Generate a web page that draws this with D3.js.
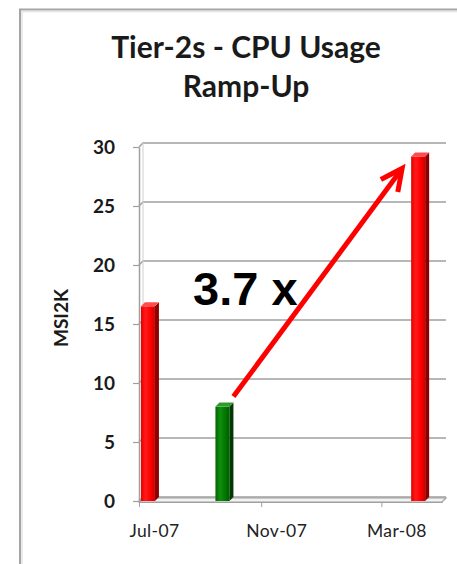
<!DOCTYPE html>
<html><head><meta charset="utf-8">
<script src="https://cdn.jsdelivr.net/npm/d3@7"></script>
<style>html,body{margin:0;padding:0;background:#fff;}svg{display:block;}</style>
</head><body>
<svg id="chart" width="457" height="564"></svg>
<script>
// ---- data ----
const titleLines = ["Tier-2s - CPU Usage", "Ramp-Up"];
const yLabel = "MSI2K";
const barDates = ["2007-07-12", "2007-09-25", "2008-04-09"];
const barValues = [16.5, 8.0, 29.2];
const barColors = ["red", "green", "red"];
const yTicks = [0, 5, 10, 15, 20, 25, 30];
const xTickDates = ["2007-07-01", "2007-11-01", "2008-03-01"];
const xTickLabels = ["Jul-07", "Nov-07", "Mar-08"];
const xDomain = ["2007-07-01", "2008-05-01"];
const annotation = "3.7 x";

const parse = d3.utcParse("%Y-%m-%d");
const svg = d3.select("#chart");
const W = 457, H = 564;
const depth = 4;

svg.append("rect").attr("width", W).attr("height", H).attr("fill", "#fff");
// frame
svg.append("path").attr("d", `M20,${H} L20,9.5 L${W},9.5`).attr("fill", "none")
  .attr("stroke", "#a4a4a4").attr("stroke-width", 2);
svg.append("path").attr("d", `M22,${H} L22,11.5 L${W},11.5`).attr("fill", "none")
  .attr("stroke", "#e4e4e4").attr("stroke-width", 1.5);

// title
const title = svg.append("text").attr("text-anchor", "middle")
  .attr("font-family", "Lato, 'Open Sans', sans-serif").attr("font-weight", "bold")
  .attr("font-size", 30).attr("fill", "#1a1a1a");
titleLines.forEach((t, i) => {
  title.append("tspan").attr("x", 246).attr("y", 58 + i * 39).text(t);
});

// scales
const x = d3.scaleUtc().domain(xDomain.map(parse)).range([139, 442]);
const y = d3.scaleLinear().domain([0, 30]).range([501, 147]);

// back wall gridlines
const grid = svg.append("g");
yTicks.forEach(v => {
  grid.append("path")
    .attr("d", `M${x.range()[0]},${y(v)} L${x.range()[0] + depth},${y(v) - depth} L${x.range()[1] + depth},${y(v) - depth}`)
    .attr("fill", "none").attr("stroke", "#a0a0a0").attr("stroke-width", 1.5);
});
grid.append("line").attr("x1", x.range()[0] + depth).attr("x2", x.range()[0] + depth)
  .attr("y1", y(30) - depth).attr("y2", y(0) - depth)
  .attr("stroke", "#cfcfcf").attr("stroke-width", 1);

// floor
svg.append("path")
  .attr("d", `M${x.range()[0]},${y(0) + 1} L${x.range()[1]},${y(0) + 1} L${x.range()[1] + depth},${y(0) + 1 - depth} L${x.range()[0] + depth},${y(0) + 1 - depth} Z`)
  .attr("fill", "#f2f2f2").attr("stroke", "#a0a0a0").attr("stroke-width", 1.2);

// y axis
const yAxis = svg.append("g").attr("transform", `translate(${x.range()[0]},0)`)
  .call(d3.axisLeft(y).tickValues(yTicks).tickSize(6).tickPadding(18).tickSizeOuter(0));
yAxis.select(".domain").attr("stroke", "#a0a0a0").attr("stroke-width", 1.5);
yAxis.selectAll(".tick line").attr("stroke", "#a0a0a0").attr("stroke-width", 1.2);
yAxis.selectAll(".tick text").attr("font-family", "Lato, sans-serif").attr("font-weight", "bold")
  .attr("font-size", 19).attr("fill", "#1a1a1a");

// x axis
const xAxis = svg.append("g").attr("transform", `translate(0,${y(0) + 1})`)
  .call(d3.axisBottom(x).tickValues(xTickDates.map(parse))
    .tickFormat((d, i) => xTickLabels[i]).tickSize(5).tickPadding(18).tickSizeOuter(0));
xAxis.select(".domain").attr("stroke", "#a0a0a0").attr("stroke-width", 1.2);
xAxis.selectAll(".tick line").attr("stroke", "#a0a0a0");
xAxis.selectAll(".tick text").attr("font-family", "Lato, sans-serif").attr("font-size", 17.5)
  .attr("fill", "#222").attr("dx", 15).attr("letter-spacing", 0.4);

// y label
svg.append("text").attr("transform", `translate(68,318) rotate(-90)`)
  .attr("text-anchor", "middle").attr("font-family", "Lato, sans-serif").attr("font-weight", "bold")
  .attr("font-size", 19).attr("fill", "#1a1a1a").text(yLabel);

// gradients
const defs = svg.append("defs");
const shades = {
  red: {front: ["#e60000", "#ff1a1a", "#ff0000", "#d00000"], side: "#8e0000", top: "#ff4d4d"},
  green: {front: ["#006400", "#118d11", "#007a00", "#005c00"], side: "#003a00", top: "#2e9a2e"}
};
Object.entries(shades).forEach(([k, s]) => {
  const g = defs.append("linearGradient").attr("id", "g-" + k).attr("x1", 0).attr("x2", 1).attr("y1", 0).attr("y2", 0);
  s.front.forEach((c, i) => g.append("stop").attr("offset", i / (s.front.length - 1)).attr("stop-color", c));
});

// bars
const bars = barDates.map((d, i) => ({date: parse(d), value: barValues[i], color: barColors[i]}));
const fw = 14;
const bg = svg.append("g");
bars.forEach(b => {
  const x0 = x(b.date) - 9;
  const yt = y(b.value), yb = y(0);
  const s = shades[b.color];
  bg.append("rect").attr("x", x0).attr("y", yt).attr("width", fw).attr("height", yb - yt)
    .attr("fill", `url(#g-${b.color})`);
  bg.append("path")
    .attr("d", `M${x0 + fw},${yt} L${x0 + fw + depth},${yt - depth} L${x0 + fw + depth},${yb - depth} L${x0 + fw},${yb} Z`)
    .attr("fill", s.side);
  bg.append("path")
    .attr("d", `M${x0},${yt} L${x0 + depth},${yt - depth} L${x0 + fw + depth},${yt - depth} L${x0 + fw},${yt} Z`)
    .attr("fill", s.top);
});

// annotation arrow (from green bar top to last bar top)
const sx = x(bars[1].date) + 9, sy = y(bars[1].value) - 10;
const tx = x(bars[2].date) - 18, ty = y(bars[2].value) + 12;
const ang = Math.atan2(sy - ty, sx - tx);
const wl = 24, wa = 26 * Math.PI / 180;
const w1 = [tx + wl * Math.cos(ang + wa), ty + wl * Math.sin(ang + wa)];
const w2 = [tx + wl * Math.cos(ang - wa), ty + wl * Math.sin(ang - wa)];
svg.append("line").attr("x1", sx).attr("y1", sy).attr("x2", tx).attr("y2", ty)
  .attr("stroke", "#ff0000").attr("stroke-width", 5);
svg.append("path").attr("d", `M${w1[0]},${w1[1]} L${tx},${ty} L${w2[0]},${w2[1]}`)
  .attr("fill", "none").attr("stroke", "#ff0000").attr("stroke-width", 5).attr("stroke-linejoin", "miter");

svg.append("text").attr("x", 193).attr("y", 305)
  .attr("font-family", "'Liberation Sans', Arial, sans-serif").attr("font-weight", "bold")
  .attr("font-size", 47).attr("fill", "#000").text(annotation);
</script>
</body></html>
